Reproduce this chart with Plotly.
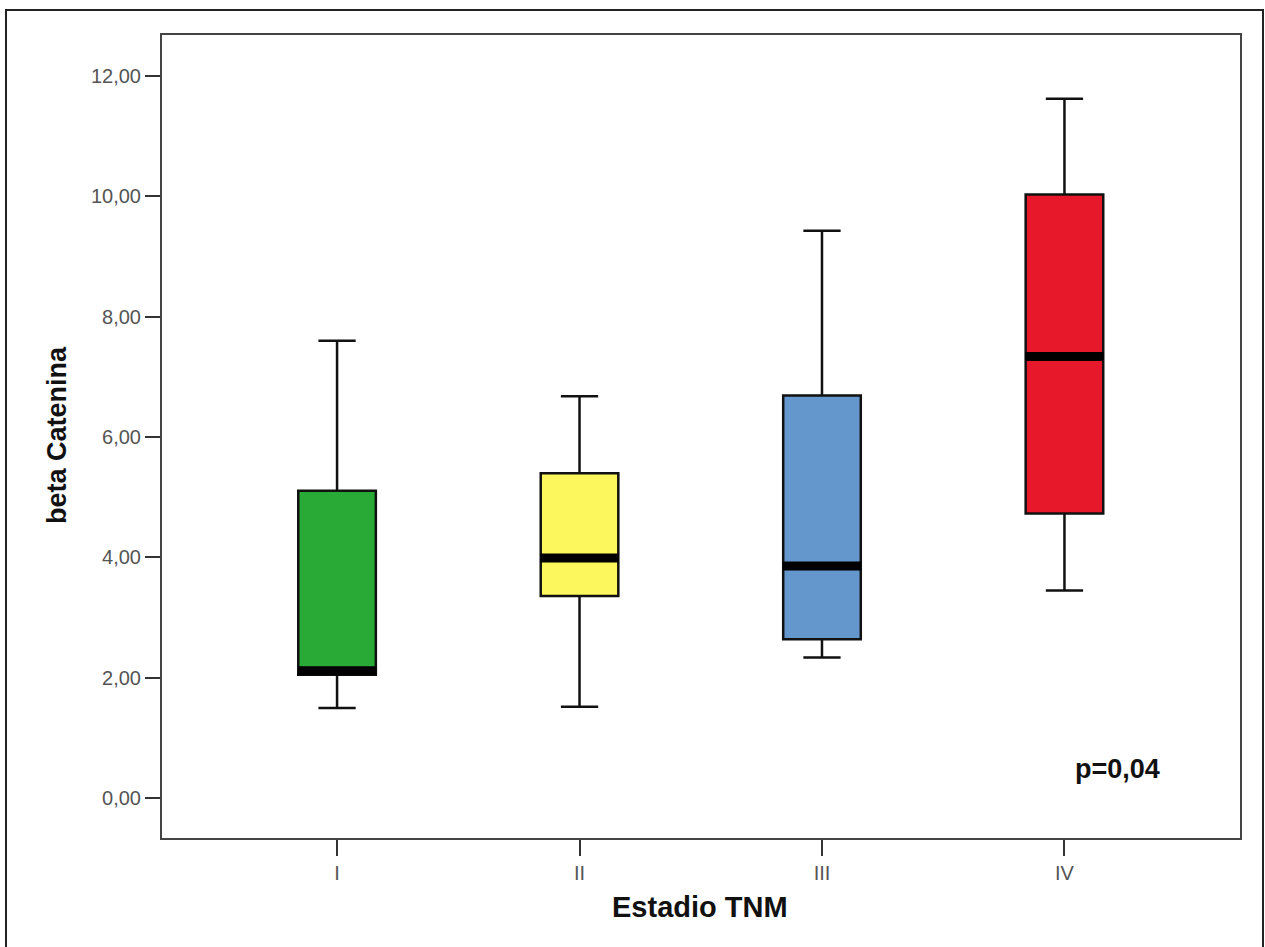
import plotly.graph_objects as go

categories = ["I", "II", "III", "IV"]
lower_whisker = [1.50, 1.52, 2.34, 3.45]
q1_vals = [2.05, 3.36, 2.64, 4.73]
median_vals = [2.12, 3.99, 3.86, 7.34]
q3_vals = [5.11, 5.40, 6.69, 10.03]
upper_whisker = [7.60, 6.68, 9.43, 11.62]
box_colors = ["#29a935", "#fcf75c", "#6497cb", "#e8182b"]
y_tick_vals = [0, 2, 4, 6, 8, 10, 12]
y_tick_text = ["0,00", "2,00", "4,00", "6,00", "8,00", "10,00", "12,00"]

W, H = 1265, 947
L, R, T, B = 162, 1240, 35, 838

fig = go.Figure()
for i, cat in enumerate(categories):
    fig.add_trace(go.Box(
        x=[i], q1=[q1_vals[i]], median=[median_vals[i]], q3=[q3_vals[i]],
        lowerfence=[lower_whisker[i]], upperfence=[upper_whisker[i]],
        fillcolor=box_colors[i], line=dict(color="#111111", width=2.5),
        width=0.32, whiskerwidth=0.48, boxpoints=False, showlegend=False,
        hoverinfo="skip",
    ))

# thick median bars
fig.add_trace(go.Scatter(
    x=list(range(len(categories))), y=median_vals, mode="markers",
    marker=dict(symbol="line-ew", size=56, line=dict(color="black", width=9)),
    showlegend=False, hoverinfo="skip",
))

def px_x(p):
    return (p - L) / (R - L)

def px_y(p):
    return (B - p) / (B - T)

fig.add_shape(type="rect", xref="paper", yref="paper",
              x0=px_x(6), x1=px_x(1263), y0=px_y(960), y1=px_y(10),
              line=dict(color="#222222", width=2), layer="below")

title_font = dict(family="Liberation Sans, Arial", size=27, color="#111111")
fig.add_annotation(text="<b>beta Catenina</b>", xref="paper", yref="paper",
                   x=px_x(57), y=px_y(435), textangle=-90, showarrow=False,
                   xanchor="center", yanchor="middle", font=title_font)
fig.add_annotation(text="<b>Estadio TNM</b>", xref="paper", yref="paper",
                   x=px_x(700), y=px_y(907), showarrow=False,
                   xanchor="center", yanchor="middle",
                   font=dict(family="Liberation Sans, Arial", size=29, color="#111111"))
fig.add_annotation(text="<b>p=0,04</b>", xref="paper", yref="paper",
                   x=px_x(1117), y=px_y(769), showarrow=False,
                   xanchor="center", yanchor="middle", font=title_font)

fig.update_layout(
    width=W, height=H,
    margin=dict(l=L, r=W - R, t=T, b=H - B),
    paper_bgcolor="white", plot_bgcolor="white",
    font=dict(family="Liberation Sans, Arial", size=20, color="#444444"),
    xaxis=dict(range=[-0.722, 3.724], tickvals=list(range(len(categories))),
               ticktext=categories, ticks="outside", ticklen=16, tickwidth=2,
               tickcolor="#333333", showline=True, linecolor="#444444",
               linewidth=2, mirror=True, showgrid=False, zeroline=False,
               tickfont=dict(size=20, color="#555555")),
    yaxis=dict(range=[-0.66, 12.68], tickvals=y_tick_vals, ticktext=y_tick_text,
               ticks="outside", ticklen=15, tickwidth=2, tickcolor="#333333",
               showline=True, linecolor="#444444", linewidth=2, mirror=True,
               showgrid=False, zeroline=False,
               tickfont=dict(size=20, color="#555555")),
)

fig.write_html("out.html", config={"displayModeBar": False},
               post_script="document.body.style.margin='0';document.body.style.overflow='hidden';")
